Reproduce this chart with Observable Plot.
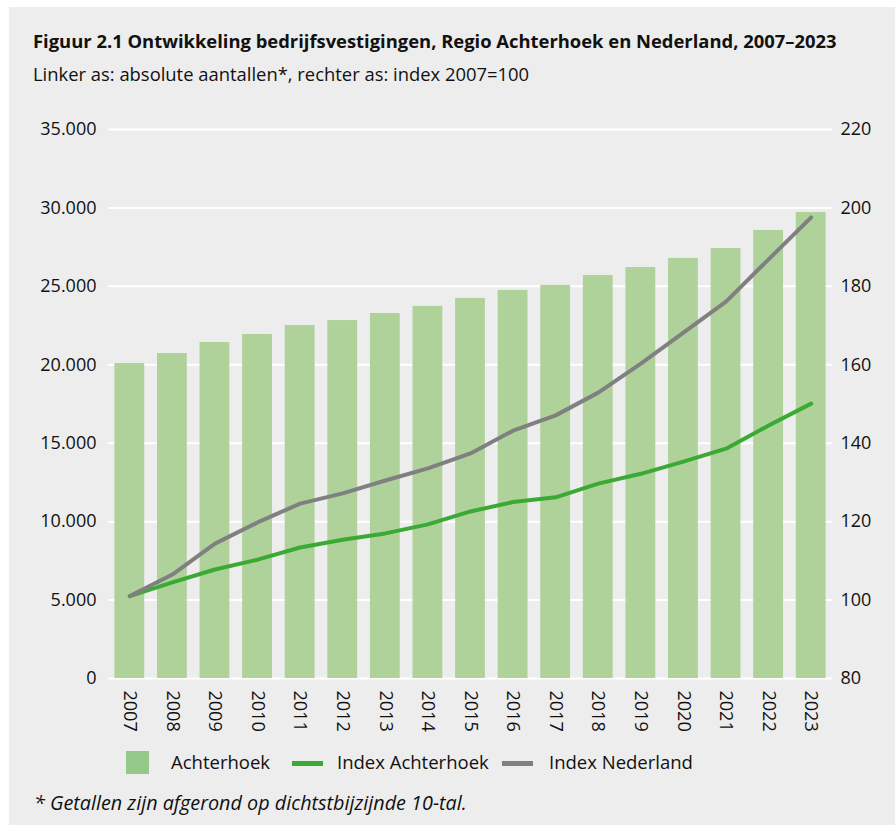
<!DOCTYPE html>
<html><head><meta charset="utf-8">
<script src="https://cdn.jsdelivr.net/npm/d3@7"></script>
<script src="https://cdn.jsdelivr.net/npm/@observablehq/plot@0.6"></script>
<style>
body{margin:0;background:#fff;font-family:"Open Sans",sans-serif;color:#111;}
#panel{position:absolute;left:9px;top:7px;width:886px;height:818px;background:#ededed;}
.txt{position:absolute;white-space:nowrap;line-height:1;}
#title{left:33px;top:32px;font-size:18.4px;font-weight:700;}
#subtitle{left:33px;top:65px;font-size:18.4px;}
#chart{position:absolute;left:9px;top:110px;}
#legend{position:absolute;left:0;top:751px;width:895px;height:24px;}
.sw{position:absolute;}
.lt{position:absolute;top:2px;font-size:18.5px;line-height:1;white-space:nowrap;}
#note{left:34px;top:793px;font-size:19.8px;font-style:italic;}
</style></head><body>
<div id="panel"></div>
<div id="title" class="txt">Figuur 2.1 Ontwikkeling bedrijfsvestigingen, Regio Achterhoek en Nederland, 2007–2023</div>
<div id="subtitle" class="txt">Linker as: absolute aantallen*, rechter as: index 2007=100</div>
<div id="chart"></div>
<div id="legend">
  <div class="sw" style="left:126px;top:0;width:23px;height:23px;background:#95c98b"></div>
  <div class="lt" style="left:171px">Achterhoek</div>
  <div class="sw" style="left:292px;top:10px;width:31px;height:5px;background:#3aaa35"></div>
  <div class="lt" style="left:337px">Index Achterhoek</div>
  <div class="sw" style="left:502px;top:10px;width:31px;height:5px;background:#808080"></div>
  <div class="lt" style="left:549px">Index Nederland</div>
</div>
<div id="note" class="txt">* Getallen zijn afgerond op dichtstbijzijnde 10-tal.</div>
<script>
const years = [2007,2008,2009,2010,2011,2012,2013,2014,2015,2016,2017,2018,2019,2020,2021,2022,2023];
const achterhoek = [20080,20720,21420,21930,22500,22820,23270,23720,24230,24740,25060,25690,26200,26780,27410,28560,29710];
const indexAchterhoek = [101,104.5,107.8,110.3,113.4,115.4,117,119.3,122.6,125,126.2,129.7,132.2,135.3,138.6,144.5,150.1];
const indexNederland = [101,106.5,114.4,119.8,124.6,127.2,130.5,133.6,137.4,143.2,147.1,152.9,160.3,168.2,176.1,186.9,197.6];
const leftTicks = [0,5000,10000,15000,20000,25000,30000,35000];
const rightTicks = [80,100,120,140,160,180,200,220];
const seriesNames = ["Index Achterhoek","Index Nederland"];

// right axis (index) mapped onto left scale: 80 -> 0, 220 -> 35000
const idxToLeft = v => (v - 80) * 35000 / (rightTicks[rightTicks.length-1] - rightTicks[0]);

const bars = years.map((y,i)=>({year:y, value:achterhoek[i]}));
const lines = [
  ...years.map((y,i)=>({year:y, idx:indexAchterhoek[i], series:seriesNames[0]})),
  ...years.map((y,i)=>({year:y, idx:indexNederland[i], series:seriesNames[1]}))
];
const fmt = d => d3.format(",")(d).replace(/,/g,".");

const chart = Plot.plot({
  width:886, height:630,
  marginLeft:99, marginRight:63, marginTop:19, marginBottom:62,
  style:{background:"transparent", fontFamily:"Open Sans", fontSize:"18px", color:"#111"},
  x:{type:"band", domain:years, paddingInner:0.3, paddingOuter:0.15, round:false},
  y:{domain:[0,35000]},
  color:{domain:seriesNames, range:["#3aaa35","#808080"]},
  marks:[
    Plot.gridY(leftTicks, {stroke:"#fff", strokeOpacity:1, strokeWidth:2}),
    Plot.barY(bars, {x:"year", y:"value", fill:"#afd29b"}),
    Plot.line(lines, {x:"year", y:d=>idxToLeft(d.idx), z:"series", stroke:"series", strokeWidth:4, strokeLinecap:"round", strokeLinejoin:"round"}),
    Plot.axisY(leftTicks, {anchor:"left", tickSize:0, tickPadding:12, tickFormat:fmt, label:null}),
    Plot.axisY(leftTicks, {anchor:"right", tickSize:0, tickPadding:8, tickFormat:(d,i)=>String(rightTicks[i]), label:null}),
    Plot.axisX({tickSize:0, tickPadding:12, tickRotate:90, tickFormat:d=>String(d), label:null})
  ]
});
document.getElementById("chart").appendChild(chart);
</script>
</body></html>
